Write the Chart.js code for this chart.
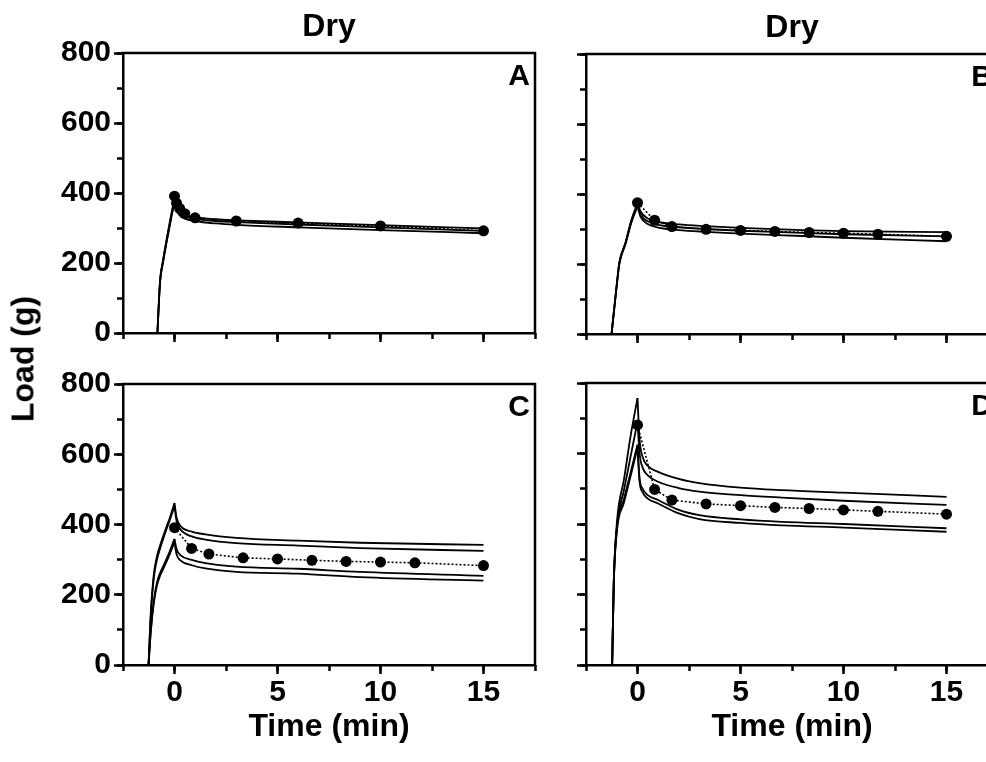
<!DOCTYPE html>
<html>
<head>
<meta charset="utf-8">
<script src="https://cdn.jsdelivr.net/npm/chart.js@4.4.0/dist/chart.umd.min.js"></script>
<style>
  html, body { margin: 0; padding: 0; background: #fff; }
  #page { position: relative; width: 986px; height: 762px; overflow: hidden; background: #fff; }
  canvas { position: absolute; }
  #loadLabel {
    position: absolute; left: 23px; top: 359px;
    transform: translate(-50%, -50%) rotate(-90deg);
    font: bold 32px "Liberation Sans", Arial, sans-serif;
    white-space: nowrap; color: #000;
  }
</style>
</head>
<body>
<div id="page">
  <canvas id="chartA" width="545" height="360" style="left:0;top:0"></canvas>
  <canvas id="chartB" width="545" height="360" style="left:463px;top:1px"></canvas>
  <canvas id="chartC" width="545" height="417" style="left:0;top:345px"></canvas>
  <canvas id="chartD" width="545" height="418" style="left:463px;top:344px"></canvas>
  <div id="loadLabel">Load (g)</div>
</div>
<script>
// axes
const X_MIN = -2.5, X_MAX = 17.5;
const Y_MIN = 0, Y_MAX = 800;
const xMajorTicks = [0, 5, 10, 15];
const xMinorTicks = [-2.5, 0, 2.5, 5, 7.5, 10, 12.5, 15, 17.5];
const yMajorTicks = [0, 200, 400, 600, 800];
const yMinorTicks = [0, 100, 200, 300, 400, 500, 600, 700, 800];

// panel A (dry) - single traces + mean
const aTime = [-0.83, -0.7, -0.55, -0.4, -0.25, -0.12, 0, 0.1, 0.25, 0.5, 1, 2, 3, 6, 10, 15];
const aLoad1 = [0, 150, 210, 262, 310, 350, 386, 362, 348, 338, 331, 325, 322, 316, 308, 299];
const aLoad2 = [0, 148, 207, 258, 305, 345, 378, 356, 342, 333, 326, 320, 317, 310, 302, 292];
const aLoad3 = [0, 145, 203, 254, 300, 340, 370, 350, 336, 327, 320, 313, 309, 302, 294, 285];
const aMeanTime = [0, 0.1, 0.25, 0.5, 1, 3, 6, 10, 15];
const aMeanLoad = [391, 371, 356, 341, 329, 320, 314, 306, 292];

// panel B (dry)
const bTime = [-1.26, -1.1, -0.98, -0.88, -0.58, -0.3, 0, 0.15, 0.5, 1, 2, 3.3, 5, 8, 10, 15];
const bLoad1 = [0, 90, 157, 205, 262, 325, 374, 350, 330, 320, 313, 308, 303, 297, 294, 291];
const bLoad2 = [0, 89, 155, 203, 260, 322, 370, 342, 322, 312, 305, 300, 295, 289, 285, 279];
const bLoad3 = [0, 88, 153, 200, 257, 318, 364, 335, 314, 304, 297, 292, 287, 280, 275, 265];
const meanTime = [0, 0.83, 1.67, 3.33, 5, 6.67, 8.33, 10, 11.67, 15];
const bMeanLoad = [375, 325, 307, 299, 296, 293, 290, 288, 285, 279];

// panel C
const cTime = [-1.26, -1.15, -1.0, -0.85, -0.7, -0.5, -0.35, -0.25, 0, 0.1, 0.3, 0.84, 1.5, 3, 6, 9, 15];
const cLoad1 = [0, 150, 260, 310, 340, 375, 400, 415, 461, 420, 395, 380, 372, 362, 354, 348, 342];
const cLoad2 = [0, 140, 250, 300, 332, 368, 393, 409, 452, 410, 385, 366, 357, 347, 340, 333, 325];
const cLoad3 = [0, 100, 185, 235, 262, 287, 307, 321, 359, 330, 312, 299, 290, 280, 274, 265, 254];
const cLoad4 = [0, 95, 178, 227, 254, 279, 299, 313, 350, 315, 297, 284, 275, 265, 260, 250, 240];
const cMeanLoad = [391, 332, 316, 305, 302, 298, 295, 293, 291, 283];

// panel D
const dTime = [-1.23, -1.15, -0.99, -0.66, -0.34, 0, 0.1, 0.25, 0.5, 1, 2, 3, 5, 7, 10, 15];
const dLoad1 = [0, 241, 411, 525, 648, 757, 640, 590, 565, 548, 528, 516, 503, 496, 489, 477];
const dLoad2 = [0, 235, 395, 495, 590, 690, 600, 560, 538, 520, 502, 492, 482, 475, 466, 454];
const dLoad3 = [0, 240, 395, 470, 545, 625, 530, 500, 482, 468, 440, 425, 413, 406, 400, 388];
const dLoad4 = [0, 235, 385, 460, 535, 615, 520, 490, 472, 458, 430, 414, 403, 396, 390, 378];
const dMeanLoad = [681, 498, 468, 457, 452, 447, 444, 440, 436, 428];

const FONT = '"Liberation Sans", Arial, Helvetica, sans-serif';
Chart.defaults.font.family = FONT;
Chart.defaults.color = '#000';

// a trace rises then relaxes: split at the peak so each part stays monotone
function traceSets(times, loads) {
  const peak = loads.indexOf(Math.max(...loads));
  const pts = times.map((t, i) => ({ x: t, y: loads[i] }));
  return [pts.slice(0, peak + 1), pts.slice(peak)].map(d => ({
    data: d,
    borderColor: '#000',
    borderWidth: 1.8,
    pointRadius: 0,
    cubicInterpolationMode: 'monotone',
    fill: false
  }));
}

function meanSet(times, loads) {
  return {
    data: times.map((t, i) => ({ x: t, y: loads[i] })),
    borderColor: '#000',
    borderWidth: 1.6,
    borderDash: [2, 2],
    pointRadius: 5.5,
    pointBackgroundColor: '#000',
    pointBorderWidth: 0,
    tension: 0,
    fill: false
  };
}

// top/right frame lines and panel letter
const panelFrame = {
  id: 'panelFrame',
  afterDatasetsDraw(chart, args, opts) {
    const { ctx, chartArea: a } = chart;
    ctx.save();
    ctx.strokeStyle = '#000';
    ctx.lineWidth = 2.5;
    ctx.lineCap = 'square';
    ctx.beginPath();
    ctx.moveTo(a.left, a.top);
    ctx.lineTo(a.right, a.top);
    ctx.lineTo(a.right, a.bottom);
    ctx.stroke();
    ctx.font = 'bold 30px ' + FONT;
    ctx.fillStyle = '#000';
    ctx.textAlign = 'right';
    ctx.textBaseline = 'top';
    ctx.fillText(opts.letter, a.right - 5, a.top + 9);
    ctx.restore();
  }
};

const tickGrid = len => ({ drawOnChartArea: false, tickLength: len, tickWidth: 2.5, tickColor: '#000' });
const setTicks = list => s => { s.ticks = list.map(v => ({ value: v })); };

function makePanel(id, cfg) {
  const datasets = [];
  cfg.traces.forEach(tr => datasets.push(...traceSets(cfg.time, tr)));
  datasets.push(meanSet(cfg.meanTime, cfg.meanLoad));

  return new Chart(document.getElementById(id), {
    type: 'line',
    data: { datasets },
    plugins: [panelFrame],
    options: {
      responsive: false,
      animation: false,
      layout: { padding: { top: cfg.padTop, right: 10, left: 0, bottom: 0 } },
      plugins: {
        legend: { display: false },
        tooltip: { enabled: false },
        title: {
          display: !!cfg.title,
          text: cfg.title || '',
          fullSize: false,
          font: { size: 32, weight: 'bold' },
          padding: { top: 8, bottom: 6.6 },
          color: '#000'
        },
        panelFrame: { letter: cfg.letter }
      },
      scales: {
        x: {
          type: 'linear',
          min: X_MIN, max: X_MAX,
          afterBuildTicks: setTicks(xMajorTicks),
          ticks: { display: cfg.xLabels, padding: 1,
                   font: { size: 30, weight: 'bold' }, color: '#000' },
          grid: tickGrid(9),
          border: { display: true, width: 2.5, color: '#000' },
          title: { display: cfg.xLabels, text: 'Time (min)', color: '#000',
                   font: { size: 32, weight: 'bold' }, padding: { top: 0, bottom: 16 } },
          afterFit: s => { s.height = cfg.xHeight; }
        },
        xMinor: {
          type: 'linear', axis: 'x', position: { y: Y_MIN },
          min: X_MIN, max: X_MAX,
          afterBuildTicks: setTicks(xMinorTicks),
          ticks: { display: false },
          grid: tickGrid(6),
          border: { display: false }
        },
        y: {
          type: 'linear',
          min: Y_MIN, max: Y_MAX,
          afterBuildTicks: setTicks(yMajorTicks),
          ticks: { display: cfg.yLabels, padding: 3,
                   font: { size: 30, weight: 'bold' }, color: '#000' },
          grid: tickGrid(9),
          border: { display: true, width: 2.5, color: '#000' },
          afterFit: s => { s.width = 123; }
        },
        yMinor: {
          type: 'linear', axis: 'y', position: { x: X_MIN },
          min: Y_MIN, max: Y_MAX,
          afterBuildTicks: setTicks(yMinorTicks),
          ticks: { display: false },
          grid: tickGrid(6),
          border: { display: false }
        }
      }
    }
  });
}

makePanel('chartA', { time: aTime, traces: [aLoad1, aLoad2, aLoad3], meanTime: aMeanTime, meanLoad: aMeanLoad,
  letter: 'A', title: 'Dry', yLabels: true, xLabels: false, padTop: 0, xHeight: 27 });
makePanel('chartB', { time: bTime, traces: [bLoad1, bLoad2, bLoad3], meanTime: meanTime, meanLoad: bMeanLoad,
  letter: 'B', title: 'Dry', yLabels: false, xLabels: false, padTop: 0, xHeight: 27 });
makePanel('chartC', { time: cTime, traces: [cLoad1, cLoad2, cLoad3, cLoad4], meanTime: meanTime, meanLoad: cMeanLoad,
  letter: 'C', title: null, yLabels: true, xLabels: true, padTop: 39, xHeight: 97 });
makePanel('chartD', { time: dTime, traces: [dLoad1, dLoad2, dLoad3, dLoad4], meanTime: meanTime, meanLoad: dMeanLoad,
  letter: 'D', title: null, yLabels: false, xLabels: true, padTop: 39, xHeight: 97 });
</script>
</body>
</html>
